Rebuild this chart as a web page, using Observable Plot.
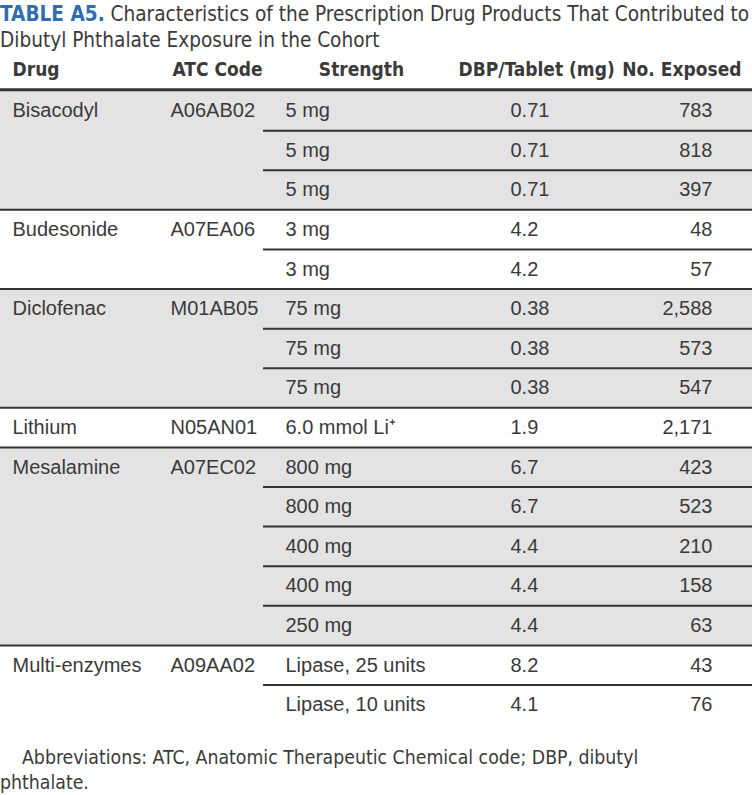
<!DOCTYPE html>
<html><head><meta charset="utf-8">
<script src="https://cdn.jsdelivr.net/npm/d3@7"></script>
<script src="https://cdn.jsdelivr.net/npm/@observablehq/plot@0.6"></script>
<style>
html,body{margin:0;padding:0;background:#fff;}
body{width:752px;height:795px;overflow:hidden;position:relative;}
.cond{font-family:"Liberation Sans Narrow","Arial Narrow","DejaVu Sans Condensed",sans-serif;}
#title{position:absolute;left:0;top:1px;width:760px;font-size:20.6px;line-height:26px;color:#3a3a3a;white-space:nowrap;}
#title b{color:#2f6faf;font-weight:bold;}
#chart{position:absolute;left:0;top:51px;}
#note{position:absolute;left:0;top:745px;width:752px;font-size:19.3px;line-height:25px;color:#3a3a3a;white-space:nowrap;}
#note .ind{padding-left:22px;}
</style>
</head><body>
<div id="title" class="cond"><b>TABLE A5.</b> Characteristics of the Prescription Drug Products That Contributed to<br>Dibutyl Phthalate Exposure in the Cohort</div>
<div id="chart"></div>
<div id="note" class="cond"><span class="ind">Abbreviations: ATC, Anatomic Therapeutic Chemical code; DBP, dibutyl</span><br>phthalate.</div>
<script>
const headers = ["Drug", "ATC Code", "Strength", "DBP/Tablet (mg)", "No. Exposed"];
const drugNames = ["Bisacodyl", "Budesonide", "Diclofenac", "Lithium", "Mesalamine", "Multi-enzymes"];
const atcCodes = ["A06AB02", "A07EA06", "M01AB05", "N05AN01", "A07EC02", "A09AA02"];
const groupSizes = [3, 2, 3, 1, 5, 2];
const strengths = ["5 mg", "5 mg", "5 mg", "3 mg", "3 mg", "75 mg", "75 mg", "75 mg", "6.0 mmol Li\u207A",
  "800 mg", "800 mg", "400 mg", "400 mg", "250 mg", "Lipase, 25 units", "Lipase, 10 units"];
const dbpPerTablet = ["0.71", "0.71", "0.71", "4.2", "4.2", "0.38", "0.38", "0.38", "1.9",
  "6.7", "6.7", "4.4", "4.4", "4.4", "8.2", "4.1"];
const numExposed = [783, 818, 397, 48, 57, 2588, 573, 547, 2171, 423, 523, 210, 158, 63, 43, 76];

// derived tables
let start = 0;
const groups = drugNames.map((name, i) => {
  const g = {name, code: atcCodes[i], start, size: groupSizes[i], shaded: i % 2 === 0};
  start += groupSizes[i];
  return g;
});
const rows = strengths.map((s, i) => ({i, strength: s, dbp: dbpPerTablet[i], exposed: d3.format(",")(numExposed[i])}));
const groupLines = groups.slice(1).map(g => g.start);
const innerLines = groups.flatMap(g => d3.range(1, g.size).map(k => g.start + k));

const W = 752, RH = 39.6, Y0 = -1, Y1 = 16.2;
const H = Math.round((Y1 - Y0) * RH);
const bodyFont = "Liberation Sans, Arial, sans-serif";
const condFont = "Liberation Sans Narrow, Arial Narrow, DejaVu Sans Condensed, sans-serif";
const ink = "#3a3a3a";
const bodySize = 20;

const hdr = headers.map((h, i) => ({h, x: [12, 172, 361, 458, 741][i], a: ["start", "start", "middle", "start", "end"][i]}));
const hdrOpts = {x: "x", y: -0.53, text: "h", fontFamily: condFont, fontWeight: "bold", fontSize: 19, fill: ink};

const plot = Plot.plot({
  width: W, height: H,
  margin: 0,
  x: {type: "linear", domain: [0, W], range: [0, W], axis: null},
  y: {type: "linear", domain: [Y0, Y1], range: [0, H], axis: null},
  color: {type: "identity"},
  style: {background: "transparent", overflow: "visible"},
  marks: [
    Plot.rect(groups, {x1: 0, x2: W, y1: d => d.start, y2: d => d.start + d.size, fill: d => d.shaded ? "#e3e3e3" : "#ffffff"}),
    Plot.ruleY(groupLines, {y: d => d, x1: 0, x2: W, stroke: "#333", strokeWidth: 2}),
    Plot.ruleY(innerLines, {y: d => d, x1: 263, x2: W, stroke: "#333", strokeWidth: 2}),
    Plot.ruleY([-0.035], {y: d => d, x1: 0, x2: W, stroke: "#333", strokeWidth: 3}),
    Plot.text(hdr.filter(d => d.a === "start"), {...hdrOpts, textAnchor: "start"}),
    Plot.text(hdr.filter(d => d.a === "middle"), {...hdrOpts, textAnchor: "middle"}),
    Plot.text(hdr.filter(d => d.a === "end"), {...hdrOpts, textAnchor: "end"}),
    Plot.text(groups, {x: 12, y: d => d.start + 0.5, text: "name", textAnchor: "start", fontFamily: bodyFont, fontSize: bodySize, fill: ink}),
    Plot.text(groups, {x: 170, y: d => d.start + 0.5, text: "code", textAnchor: "start", fontFamily: bodyFont, fontSize: bodySize, fill: ink}),
    Plot.text(rows, {x: 285, y: d => d.i + 0.5, text: "strength", textAnchor: "start", fontFamily: bodyFont, fontSize: bodySize, fill: ink}),
    Plot.text(rows, {x: 510, y: d => d.i + 0.5, text: "dbp", textAnchor: "start", fontFamily: bodyFont, fontSize: bodySize, fill: ink}),
    Plot.text(rows, {x: 712, y: d => d.i + 0.5, text: "exposed", textAnchor: "end", fontFamily: bodyFont, fontSize: bodySize, fill: ink})
  ]
});
document.getElementById("chart").appendChild(plot);
</script>
</body></html>
